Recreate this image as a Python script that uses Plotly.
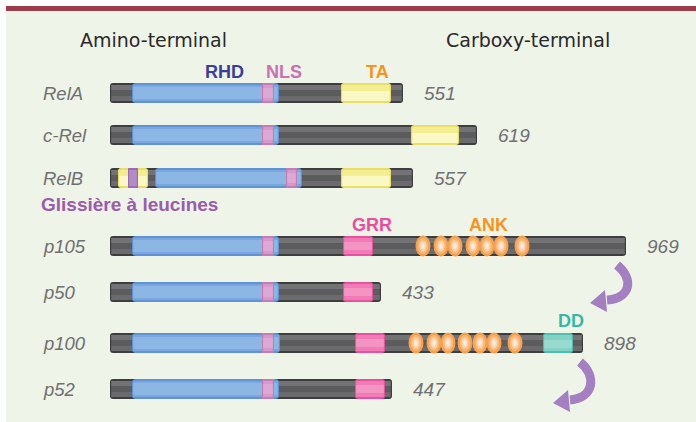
import plotly.graph_objects as go

# ---------------- data (diagram units along the chain) ----------------
proteins = ["RelA", "c-Rel", "RelB", "p105", "p50", "p100", "p52"]
aa_length = ["551", "619", "557", "969", "433", "898", "447"]
row_y = [93, 135, 178, 246, 292, 343, 389]
chain_start = [110, 110, 110, 110, 110, 110, 110]
chain_end = [403, 477, 413, 626, 381, 583, 392]

rhd_start = [132, 132, 155, 132, 132, 132, 132]
rhd_end = [279, 279, 302, 279, 279, 280, 279]
rhd_mark = [205, 205, 227, 205, 205, 205, 205]
nls_start = [262, 262, 286, 262, 262, 262, 262]
nls_end = [274, 274, 297, 274, 274, 274, 274]

ta_domains = [("RelA", 341, 391), ("c-Rel", 411, 459), ("RelB", 341, 391), ("RelB", 118, 148)]
lz_domains = [("RelB", 128, 138)]
grr_domains = [("p105", 343, 373), ("p50", 343, 373), ("p100", 355, 385), ("p52", 355, 385)]
dd_domains = [("p100", 543, 573)]
ank_repeats = {
    "p105": [423, 441, 455, 473, 487, 501, 522],
    "p100": [416, 434, 448, 465, 480, 494, 515],
}
processing = [("p105", "p50"), ("p100", "p52")]

# ---------------- styling ----------------
W, H = 696, 422
PANEL = "#EEF4E7"
GREY_TXT = "#707073"

shapes = []


def rrect(x0, x1, y0, y1, r):
    r = min(r, (x1 - x0) / 2, (y1 - y0) / 2)
    return (f"M {x0+r},{y0} L {x1-r},{y0} Q {x1},{y0} {x1},{y0+r} "
            f"L {x1},{y1-r} Q {x1},{y1} {x1-r},{y1} L {x0+r},{y1} "
            f"Q {x0},{y1} {x0},{y1-r} L {x0},{y0+r} Q {x0},{y0} {x0+r},{y0} Z")


def add_path(path, color):
    shapes.append(dict(type="path", path=path, fillcolor=color,
                       line=dict(width=0), layer="above", xref="x", yref="y"))


def add_rect(x0, x1, y0, y1, color):
    shapes.append(dict(type="rect", x0=x0, x1=x1, y0=y0, y1=y1, fillcolor=color,
                       line=dict(width=0), layer="above", xref="x", yref="y"))


def add_ellipse(x0, x1, y0, y1, color):
    shapes.append(dict(type="circle", x0=x0, x1=x1, y0=y0, y1=y1, fillcolor=color,
                       line=dict(width=0), layer="above", xref="x", yref="y"))


def striped(x0, x1, yc, base, bands, r=3):
    add_path(rrect(x0, x1, yc - 10, yc + 10, r), base)
    for (a, b, c) in bands:
        add_rect(x0 + 1.2, x1 - 1.2, yc + a, yc + b, c)


GREY_BANDS = [(-8, -3, "#737376"), (-3, 3, "#5C5C5F"), (3, 8, "#6B6B6E")]
BLUE_BANDS = [(-8, -6, "#79A7DE"), (-6, 6, "#8CB7E4"), (6, 8, "#79A7DE")]
NLS_BANDS = [(-8, 8, "#D49BC9"), (-5, 5, "#DDA8D3")]
YEL_BANDS = [(-8, -2, "#F4EE92"), (-2, 8, "#FAF8C4")]
LZ_BANDS = [(-8, 8, "#B48BC8")]
GRR_BANDS = [(-8, 8, "#F07BB6"), (-4, 4, "#F494C3")]
DD_BANDS = [(-8, 8, "#84D2C6"), (-3, 5, "#98DACF")]

# panel background and top rule
add_rect(6, W, 10, H, PANEL)
add_rect(6, W, 6, 11, "#9C3B4B")

idx = {p: i for i, p in enumerate(proteins)}

for i, p in enumerate(proteins):
    yc = row_y[i]
    striped(chain_start[i], chain_end[i], yc, "#3E3E41", GREY_BANDS, r=3)
    striped(rhd_start[i], rhd_end[i], yc, "#5F93D6", BLUE_BANDS, r=4)
    striped(nls_start[i], nls_end[i], yc, "#C47CB6", NLS_BANDS, r=0.5)

for p, a, b in ta_domains:
    striped(a, b, row_y[idx[p]], "#E9DE66", YEL_BANDS, r=3)
for p, a, b in lz_domains:
    striped(a, b, row_y[idx[p]], "#9D6BB5", LZ_BANDS, r=0.5)
for p, a, b in grr_domains:
    striped(a, b, row_y[idx[p]], "#E9509D", GRR_BANDS, r=3)
for p, a, b in dd_domains:
    striped(a, b, row_y[idx[p]], "#4DBFAE", DD_BANDS, r=3)
for p, centers in ank_repeats.items():
    yc = row_y[idx[p]]
    for cx in centers:
        add_ellipse(cx - 7.5, cx + 7.5, yc - 10.5, yc + 10.5, "#F6A04C")
        add_ellipse(cx - 5.5, cx + 5.5, yc - 8, yc + 8, "#F9B777")
        add_ellipse(cx - 3.5, cx + 3.5, yc - 5.5, yc + 5.5, "#FBD3AD")
        add_ellipse(cx - 1.8, cx + 1.8, yc - 3, yc + 3, "#FDEBDC")

# processing arrows (precursor -> mature subunit)
ARROW = "#A47FC1"
for src, dst in processing:
    end_x = chain_end[idx[src]]
    y0 = row_y[idx[src]] + 19
    y1 = row_y[idx[dst]] + 12 if src == "p105" else row_y[idx[dst]] + 15
    ox = end_x - 9 if src == "p105" else end_x - 3
    # body
    shapes.append(dict(type="path",
                       path=f"M {ox},{y0} C {ox+17},{y0+14} {ox+14},{y1-6} {ox-10},{y1-4}",
                       line=dict(color=ARROW, width=9), layer="above", xref="x", yref="y"))
    # head
    add_path(f"M {ox-27},{y1-1} L {ox-12},{y1-14} L {ox-10},{y1+8} Z", ARROW)

fig = go.Figure()

# RHD internal marks (dotted lines)
mx, my = [], []
for i in range(len(proteins)):
    for d in (-6, 0, 6):
        mx.append(rhd_mark[i])
        my.append(row_y[i] + d)
fig.add_trace(go.Scatter(x=mx, y=my, mode="markers",
                         marker=dict(size=4, color="#3D3A9C"),
                         hoverinfo="skip", showlegend=False))

ann = []
for i, p in enumerate(proteins):
    ann.append(dict(x=41, y=row_y[i], text=f"<i>{p}</i>", xanchor="left", yanchor="middle",
                    showarrow=False, font=dict(size=18.5, color=GREY_TXT, family="Liberation Sans")))
    ann.append(dict(x=chain_end[i] + 19, y=row_y[i], text=f"<i>{aa_length[i]}</i>", xanchor="left",
                    yanchor="middle", showarrow=False,
                    font=dict(size=19, color=GREY_TXT, family="Liberation Sans")))


def bold(x, y, txt, color, size=18):
    ann.append(dict(x=x, y=y, text=f"<b>{txt}</b>", xanchor="left", yanchor="middle",
                    showarrow=False, font=dict(size=size, color=color, family="Liberation Sans")))


bold(203, 72, "RHD", "#3C3F99")
bold(264, 72, "NLS", "#C971B4")
bold(364, 72, "TA", "#F7941E")
bold(39, 204, "Glissière à leucines", "#9B5BAE", size=19)
bold(350, 225, "GRR", "#EC4C9B")
bold(467, 225, "ANK", "#F7941E")
bold(556, 321, "DD", "#35B9A6")

ann.append(dict(x=78, y=40, text="Amino-terminal", xanchor="left", yanchor="middle", showarrow=False,
                font=dict(size=19, color="#2A2A2A", family="DejaVu Sans")))
ann.append(dict(x=444, y=40, text="Carboxy-terminal", xanchor="left", yanchor="middle", showarrow=False,
                font=dict(size=19, color="#2A2A2A", family="DejaVu Sans")))

fig.update_layout(
    width=W, height=H, margin=dict(l=0, r=0, t=0, b=0),
    paper_bgcolor="white", plot_bgcolor="white",
    xaxis=dict(range=[0, W], visible=False, fixedrange=True),
    yaxis=dict(range=[H, 0], visible=False, fixedrange=True),
    shapes=shapes, annotations=ann, showlegend=False,
)

fig.write_html("out.html", config={"displayModeBar": False, "staticPlot": True},
               post_script="document.body.style.margin='0';")
